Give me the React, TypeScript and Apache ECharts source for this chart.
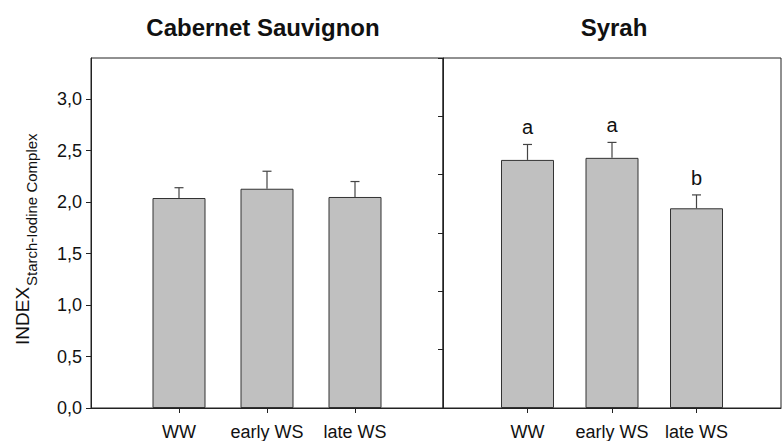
import React, { useEffect, useRef } from "react";
import * as echarts from "echarts";

// ---- data ----
const categories = ["WW", "early WS", "late WS"];
const cabernetMeans = [2.04, 2.13, 2.05];
const cabernetErrors = [0.1, 0.17, 0.15];
const syrahMeans = [2.41, 2.43, 1.94];
const syrahErrors = [0.15, 0.15, 0.13];
const syrahLetters = ["a", "a", "b"];
const cabernetLetters = ["", "", ""];
const yTickValues = [0, 0.5, 1.0, 1.5, 2.0, 2.5, 3.0];
const panelTitles = ["Cabernet Sauvignon", "Syrah"];

const FONT = "'Liberation Sans', Arial, sans-serif";
const axisCats = ["", ...categories, ""];

function errorSeries(means: number[], errs: number[], letters: string[], xi: number, yi: number) {
  return {
    type: "custom",
    xAxisIndex: xi,
    yAxisIndex: yi,
    z: 5,
    data: means.map((m, i) => [i + 1, m, m + errs[i]]),
    renderItem: (params: any, api: any) => {
      const i = params.dataIndex;
      const x = api.value(0);
      const base = api.coord([x, api.value(1)]);
      const top = api.coord([x, api.value(2)]);
      const children: any[] = [
        { type: "line", shape: { x1: base[0], y1: base[1], x2: top[0], y2: top[1] }, style: { stroke: "#444", lineWidth: 1.2 } },
        { type: "line", shape: { x1: top[0] - 4.5, y1: top[1], x2: top[0] + 4.5, y2: top[1] }, style: { stroke: "#444", lineWidth: 1.2 } },
      ];
      if (letters[i]) {
        children.push({
          type: "text",
          x: top[0],
          y: top[1] - 7,
          style: { text: letters[i], fontSize: 20, fontFamily: FONT, fill: "#111", align: "center", verticalAlign: "bottom" },
        });
      }
      return { type: "group", children };
    },
  };
}

function barSeries(means: number[], xi: number, yi: number) {
  return {
    type: "bar",
    xAxisIndex: xi,
    yAxisIndex: yi,
    barWidth: 53,
    data: means.map((m, i) => [i + 1, m]),
    itemStyle: { color: "#c0c0c0", borderColor: "#333", borderWidth: 1 },
  };
}

const xAxisCommon = {
  type: "category",
  boundaryGap: false,
  data: axisCats,
  axisLine: { show: true, lineStyle: { color: "#222", width: 1 } },
  axisTick: { show: true, length: 5, inside: false, interval: (idx: number) => idx >= 1 && idx <= 3, lineStyle: { color: "#222" } },
  axisLabel: { interval: 0, margin: 15, fontSize: 18, fontFamily: FONT, color: "#111" },
  splitLine: { show: false },
};

export default function App() {
  const ref = useRef<HTMLDivElement>(null);
  useEffect(() => {
    if (!ref.current) return;
    const chart = echarts.init(ref.current, null, { renderer: "svg" });
    chart.setOption({
      animation: false,
      backgroundColor: "#fff",
      grid: [
        { left: 91, top: 58, width: 352, bottom: 32, show: true, borderColor: "#222", borderWidth: 1 },
        { left: 443, top: 58, width: 352, bottom: 32, show: true, borderColor: "#222", borderWidth: 1 },
      ],
      xAxis: [
        { ...xAxisCommon, gridIndex: 0 },
        { ...xAxisCommon, gridIndex: 1 },
      ],
      yAxis: [
        {
          type: "value",
          gridIndex: 0,
          min: 0,
          max: 3.4,
          axisLine: { show: true, lineStyle: { color: "#222" } },
          axisTick: { show: true, length: 5, inside: false, customValues: yTickValues, lineStyle: { color: "#222" } },
          axisLabel: {
            customValues: yTickValues,
            margin: 9,
            fontSize: 18,
            fontFamily: FONT,
            color: "#111",
            formatter: (v: number) => v.toFixed(1).replace(".", ","),
          },
          splitLine: { show: false },
        },
        {
          type: "value",
          gridIndex: 1,
          min: 0,
          max: 3,
          interval: 0.5,
          axisLine: { show: true, lineStyle: { color: "#222" } },
          axisTick: { show: true, length: 5, inside: false, lineStyle: { color: "#222" } },
          axisLabel: { show: false },
          splitLine: { show: false },
        },
        { type: "value", gridIndex: 1, min: 0, max: 3.4, show: false, splitLine: { show: false } },
      ],
      graphic: [
        {
          type: "text",
          x: 263,
          y: 27,
          style: { text: panelTitles[0], fontSize: 24, fontWeight: "bold", fontFamily: FONT, fill: "#111", align: "center", verticalAlign: "middle" },
        },
        {
          type: "text",
          x: 614,
          y: 27,
          style: { text: panelTitles[1], fontSize: 24, fontWeight: "bold", fontFamily: FONT, fill: "#111", align: "center", verticalAlign: "middle" },
        },
        {
          type: "text",
          x: 22,
          y: 345,
          rotation: Math.PI / 2,
          style: { text: "INDEX", fontSize: 19, fontFamily: FONT, fill: "#111", align: "left", verticalAlign: "middle" },
        },
        {
          type: "text",
          x: 31,
          y: 286,
          rotation: Math.PI / 2,
          style: { text: "Starch-Iodine Complex", fontSize: 15, fontFamily: FONT, fill: "#111", align: "left", verticalAlign: "middle" },
        },
      ],
      series: [
        barSeries(cabernetMeans, 0, 0),
        errorSeries(cabernetMeans, cabernetErrors, cabernetLetters, 0, 0),
        barSeries(syrahMeans, 1, 2),
        errorSeries(syrahMeans, syrahErrors, syrahLetters, 1, 2),
      ],
    });
    return () => chart.dispose();
  }, []);
  return <div ref={ref} style={{ position: "fixed", left: 0, top: 0, width: 784, height: 441 }} />;
}
